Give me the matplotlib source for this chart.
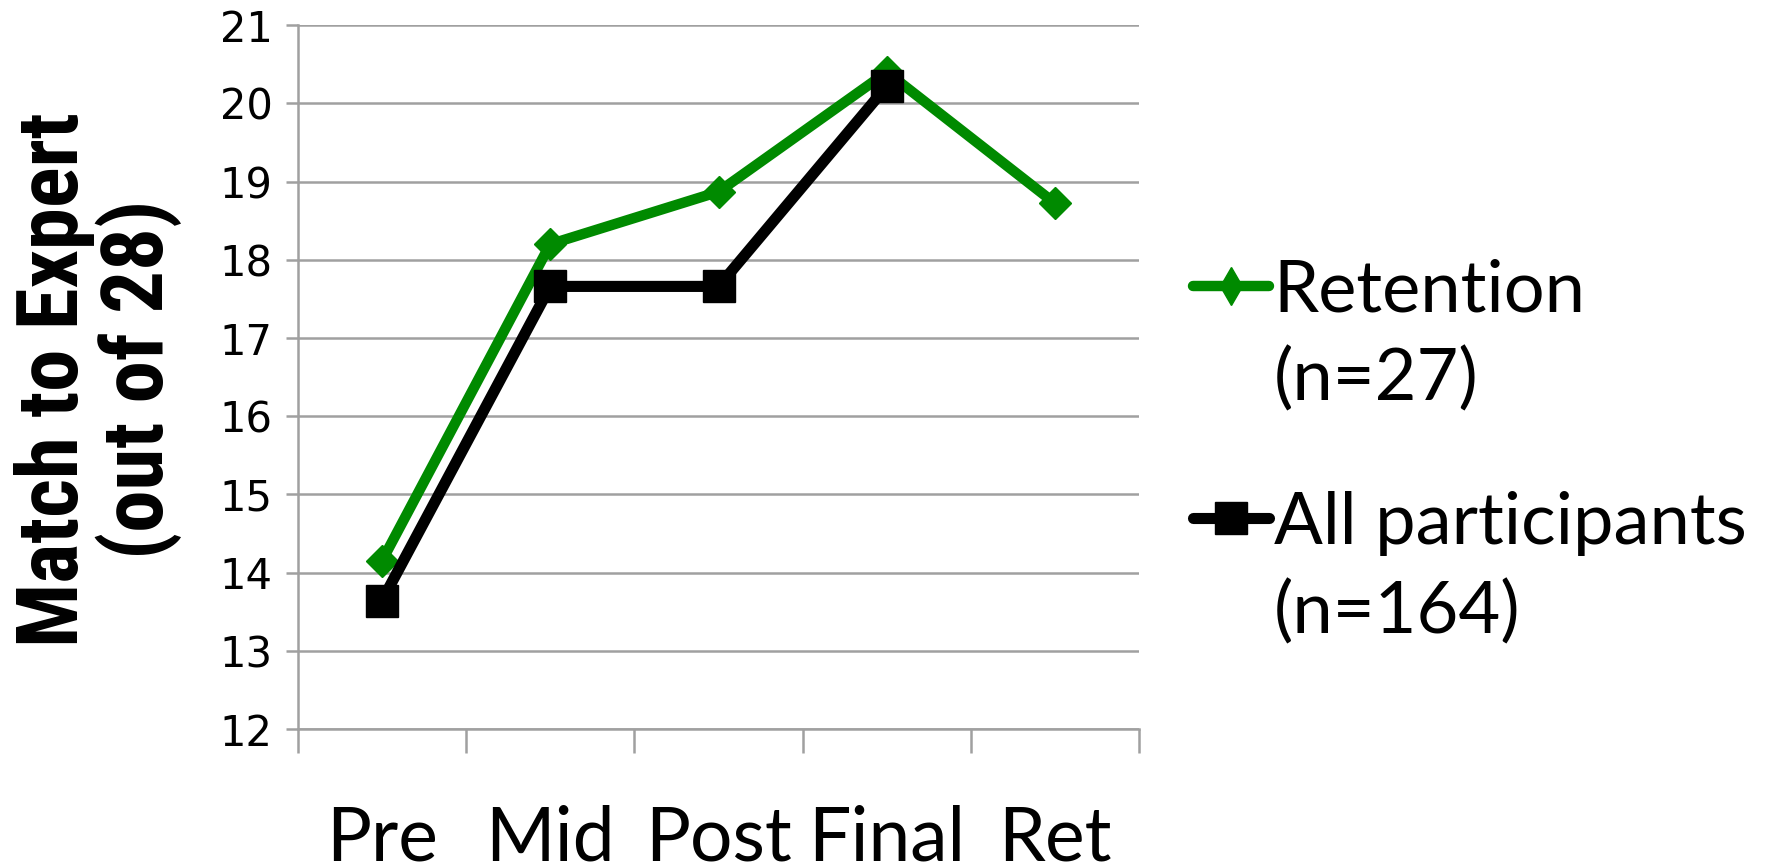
import matplotlib
matplotlib.use("Agg")
import matplotlib.pyplot as plt
from matplotlib.lines import Line2D

# scores at each test point
stages = ["Pre", "Mid", "Post", "Final", "Ret"]
retention = [14.15, 18.2, 18.87, 20.4, 18.72]
all_participants = [13.64, 17.66, 17.66, 20.22]

retention_label = ["Retention", "(n=27)"]
all_label = ["All participants", "(n=164)"]

green = "#008A00"
grid_gray = "#A0A0A0"
text_font = ["Lato", "DejaVu Sans"]

fig = plt.figure(figsize=(17.83, 8.67), dpi=100)
ax = fig.add_axes([0.167, 0.159, 0.472, 0.812])

# series
ax.plot(range(len(retention)), retention, color=green, lw=7.5,
        marker="D", ms=16, mec=green, mfc=green, zorder=3)
ax.plot(range(len(all_participants)), all_participants, color="black", lw=8,
        marker="s", ms=23, mec="black", mfc="black", zorder=4)

# axes
ax.set_ylim(12, 21)
ax.set_yticks(range(12, 22))
ax.set_xlim(-0.5, len(stages) - 0.5)
ax.set_xticks([i - 0.5 for i in range(len(stages) + 1)])
ax.set_xticklabels([])
ax.set_xticks(range(len(stages)), minor=True)
ax.set_xticklabels(stages, minor=True, fontsize=54, family=text_font)
ax.tick_params(axis="x", which="major", length=17, width=1.8, color=grid_gray, direction="out")
ax.tick_params(axis="x", which="minor", length=0, pad=54)
ax.tick_params(axis="y", length=9, width=1.8, color=grid_gray, pad=9, labelsize=30)

ax.grid(axis="y", color=grid_gray, lw=1.8)
ax.set_axisbelow(True)
for side in ["top", "right"]:
    ax.spines[side].set_visible(False)
for side in ["left", "bottom"]:
    ax.spines[side].set_color(grid_gray)
    ax.spines[side].set_linewidth(1.8)

# y label
fig.text(0.055, 0.562, "Match to Expert\n(out of 28)", rotation=90, ha="center", va="center",
         multialignment="center", fontsize=61, fontweight="bold", linespacing=1.02,
         family=["Roboto Condensed", "Liberation Sans Narrow", "Lato", "DejaVu Sans"])

# legend keys and text, one block per series
ret_key = Line2D([], [], color=green, lw=7.5, marker="d", ms=19,
                 mec=green, mfc=green, solid_capstyle="round")
all_key = Line2D([], [], color="black", lw=8, marker="s", ms=23,
                 mec="black", mfc="black", solid_capstyle="round")
blank = Line2D([], [], linestyle="none")
leg_opts = dict(loc="upper left", bbox_transform=fig.transFigure, frameon=False,
                prop={"family": text_font, "size": 52}, handlelength=1.05,
                handletextpad=0.07, labelspacing=0.32, borderpad=0, borderaxespad=0)
leg1 = ax.legend([ret_key, blank], retention_label, bbox_to_anchor=(0.669, 0.702), **leg_opts)
ax.add_artist(leg1)
leg2 = ax.legend([all_key, blank], all_label, bbox_to_anchor=(0.669, 0.434), **leg_opts)

fig.savefig("out.png", dpi=100)
